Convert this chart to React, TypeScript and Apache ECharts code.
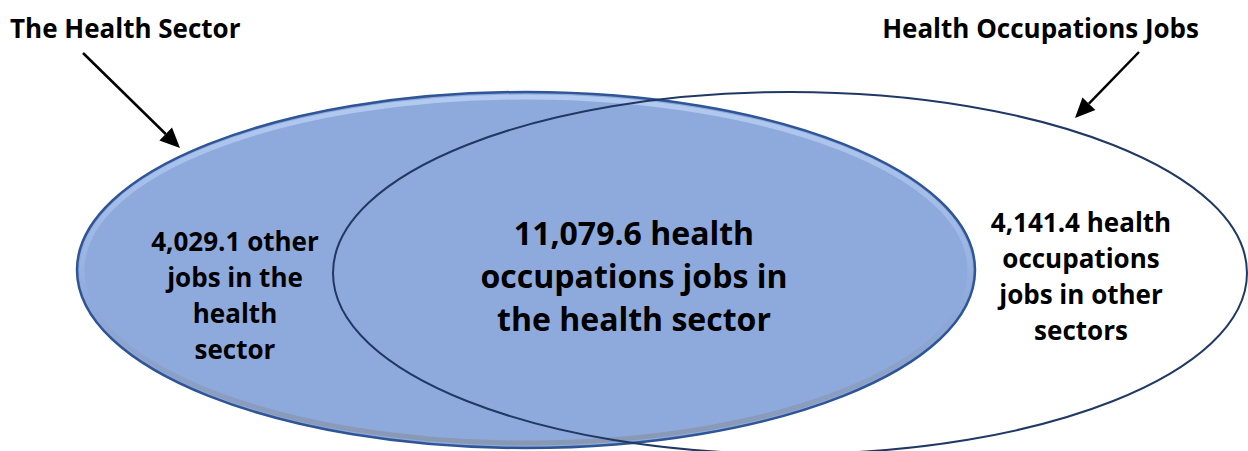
import React, { useEffect, useRef } from "react";
import * as echarts from "echarts";

// Set names (titles) and region labels
const setTitles = ["The Health Sector", "Health Occupations Jobs"];
const regionValues = ["4,029.1", "11,079.6", "4,141.4"];
const regionTexts = [
  ["other", "jobs in the", "health", "sector"],
  ["health", "occupations jobs in", "the health sector"],
  ["health", "occupations", "jobs in other", "sectors"],
];

function buildLabel(i: number): string {
  const lines = regionTexts[i].slice();
  lines[0] = regionValues[i] + " " + lines[0];
  return lines.join("\n");
}

function arrow(x1: number, y1: number, x2: number, y2: number) {
  const ang = Math.atan2(y2 - y1, x2 - x1);
  const len = 20;
  const half = 9;
  const bx = x2 - len * Math.cos(ang);
  const by = y2 - len * Math.sin(ang);
  const px = -Math.sin(ang) * half;
  const py = Math.cos(ang) * half;
  return [
    {
      type: "line",
      shape: { x1, y1, x2: bx, y2: by },
      style: { stroke: "#000", lineWidth: 2.5 },
    },
    {
      type: "polygon",
      shape: { points: [[x2, y2], [bx + px, by + py], [bx - px, by - py]] },
      style: { fill: "#000" },
    },
  ];
}

export default function App() {
  const ref = useRef<HTMLDivElement>(null);
  useEffect(() => {
    document.body.style.margin = "0";
    const chart = echarts.init(ref.current!, null, { renderer: "svg" });
    const font = "'Open Sans', sans-serif";
    const L = { cx: 526, cy: 270, rx: 449, ry: 178 };
    const R = { cx: 790, cy: 273, rx: 457, ry: 181 };
    chart.setOption({
      animation: false,
      graphic: [
        {
          type: "ellipse",
          shape: L,
          style: { fill: "#8EA9DB", stroke: "#2F5597", lineWidth: 2.5 },
          z: 1,
        },
        {
          type: "ellipse",
          shape: { cx: L.cx, cy: L.cy, rx: L.rx - 5, ry: L.ry - 5 },
          style: {
            fill: null,
            lineWidth: 5,
            opacity: 0.8,
            stroke: new echarts.graphic.LinearGradient(0, 0, 0, 1, [
              { offset: 0, color: "#BCD3F5" },
              { offset: 0.45, color: "#9FB9E6" },
              { offset: 0.6, color: "#8EA9DB" },
              { offset: 1, color: "#8894A8" },
            ]),
          },
          z: 2,
        },
        {
          type: "ellipse",
          shape: R,
          style: { fill: null, stroke: "#203864", lineWidth: 2 },
          z: 3,
        },
        {
          type: "text",
          z: 5,
          style: {
            text: setTitles[0], x: 10, y: 28, align: "left", verticalAlign: "middle",
            font: `bold 26px ${font}`, fill: "#000",
          },
        },
        {
          type: "text",
          z: 5,
          style: {
            text: setTitles[1], x: 1199, y: 28, align: "right", verticalAlign: "middle",
            font: `bold 26px ${font}`, fill: "#000",
          },
        },
        {
          type: "text",
          z: 5,
          style: {
            text: buildLabel(0), x: 235, y: 295, align: "center", verticalAlign: "middle",
            font: `bold 26px ${font}`, lineHeight: 36, fill: "#000",
          },
        },
        {
          type: "text",
          z: 5,
          style: {
            text: buildLabel(1), x: 634, y: 275, align: "center", verticalAlign: "middle",
            font: `bold 32px ${font}`, lineHeight: 43, fill: "#000",
          },
        },
        {
          type: "text",
          z: 5,
          style: {
            text: buildLabel(2), x: 1081, y: 276, align: "center", verticalAlign: "middle",
            font: `bold 26px ${font}`, lineHeight: 36, fill: "#000",
          },
        },
        ...arrow(83, 53, 180, 148).map((e) => ({ ...e, z: 6 })),
        ...arrow(1139, 52, 1075, 118).map((e) => ({ ...e, z: 6 })),
      ],
    });
    return () => chart.dispose();
  }, []);
  return <div ref={ref} style={{ width: 1248, height: 451 }} />;
}
